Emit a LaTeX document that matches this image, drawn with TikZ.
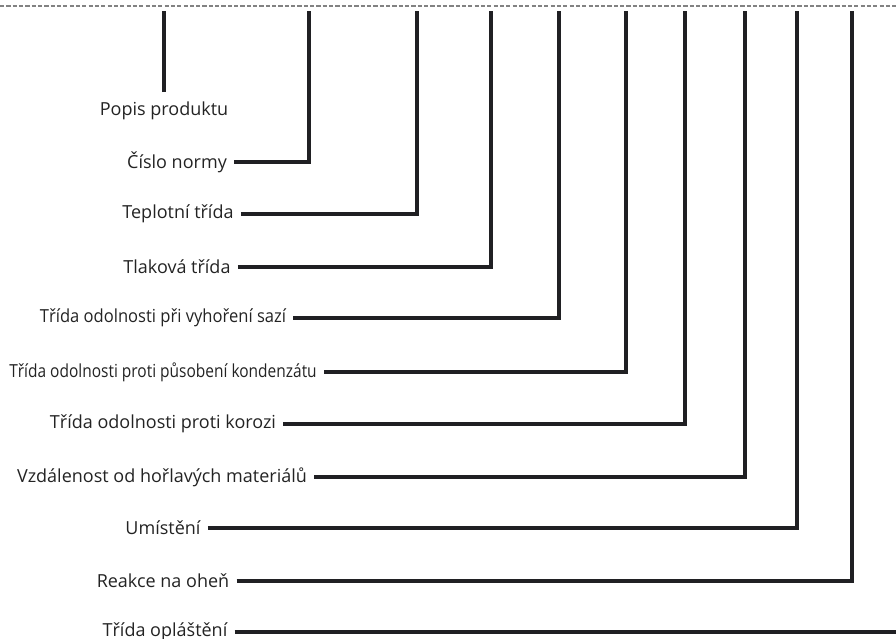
\documentclass[tikz,border=0pt]{standalone}
\usepackage{fontspec}
\setmainfont{Open Sans}
\usepackage{graphicx}
\usetikzlibrary{positioning}
\definecolor{inkline}{RGB}{32,32,35}
\definecolor{rulegray}{RGB}{130,130,130}
\definecolor{labelink}{RGB}{35,35,35}
\newcommand{\narrowlbl}[2][0.86]{\scalebox{#1}[1]{#2}}

\begin{document}
\begin{tikzpicture}[x=0.025cm, y=-0.025cm, every node/.style={font=\fontsize{12.8}{15}\selectfont, text=labelink}]
  \tikzstyle{lbl}=[inner xsep=5pt, inner ysep=2pt]
  \tikzstyle{leader}=[line width=2.2pt, draw=inkline]
  \useasboundingbox (0,0) rectangle (896,639);
  % dashed rule along the top
  \coordinate (ruleL) at (0,6);
  \coordinate (ruleR) at (896,6);
  \draw[rulegray, line width=1pt, dash pattern=on 3pt off 1.5pt] (ruleL) -- (ruleR);
  % labels
  \node[lbl, anchor=north, inner ysep=7pt] (popis) at (164,92) {Popis produktu};
  \node[lbl] (norma) at (177,162) {Číslo normy};
  \node[lbl] (teplota) at (178,214) {Teplotní třída};
  \node[lbl] (tlak) at (177,267) {Tlaková třída};
  \node[lbl] (saze) at (163,318) {\narrowlbl[0.92]{Třída odolnosti při vyhoření sazí}};
  \node[lbl] (kondenzat) at (163,372) {\narrowlbl{Třída odolnosti proti působení kondenzátu}};
  \node[lbl] (koroze) at (163,424) {Třída odolnosti proti korozi};
  \node[lbl] (vzdalenost) at (162,477) {Vzdálenost od hořlavých materiálů};
  \node[lbl] (umisteni) at (163,528) {Umístění};
  \node[lbl] (reakce) at (163,581) {Reakce na oheň};
  \node[lbl] (plast) at (165,632) {Třída opláštění};
  % corners and upper ends of the leaders
  \coordinate (t1) at (164,11);
  \coordinate (t2) at (309,11);
  \coordinate (t3) at (417,11);
  \coordinate (t4) at (491,11);
  \coordinate (t5) at (559,11);
  \coordinate (t6) at (626,11);
  \coordinate (t7) at (685,11);
  \coordinate (t8) at (745,11);
  \coordinate (t9) at (797,11);
  \coordinate (t10) at (852,11);
  \coordinate (edge) at (896,632);
  % leaders
  \draw[leader] (popis.north) -- (t1);
  \draw[leader] (norma.east) -- (t2 |- norma.east) -- (t2);
  \draw[leader] (teplota.east) -- (t3 |- teplota.east) -- (t3);
  \draw[leader] (tlak.east) -- (t4 |- tlak.east) -- (t4);
  \draw[leader] (saze.east) -- (t5 |- saze.east) -- (t5);
  \draw[leader] (kondenzat.east) -- (t6 |- kondenzat.east) -- (t6);
  \draw[leader] (koroze.east) -- (t7 |- koroze.east) -- (t7);
  \draw[leader] (vzdalenost.east) -- (t8 |- vzdalenost.east) -- (t8);
  \draw[leader] (umisteni.east) -- (t9 |- umisteni.east) -- (t9);
  \draw[leader] (reakce.east) -- (t10 |- reakce.east) -- (t10);
  \draw[leader] (plast.east) -- (edge |- plast.east);
\end{tikzpicture}
\end{document}
